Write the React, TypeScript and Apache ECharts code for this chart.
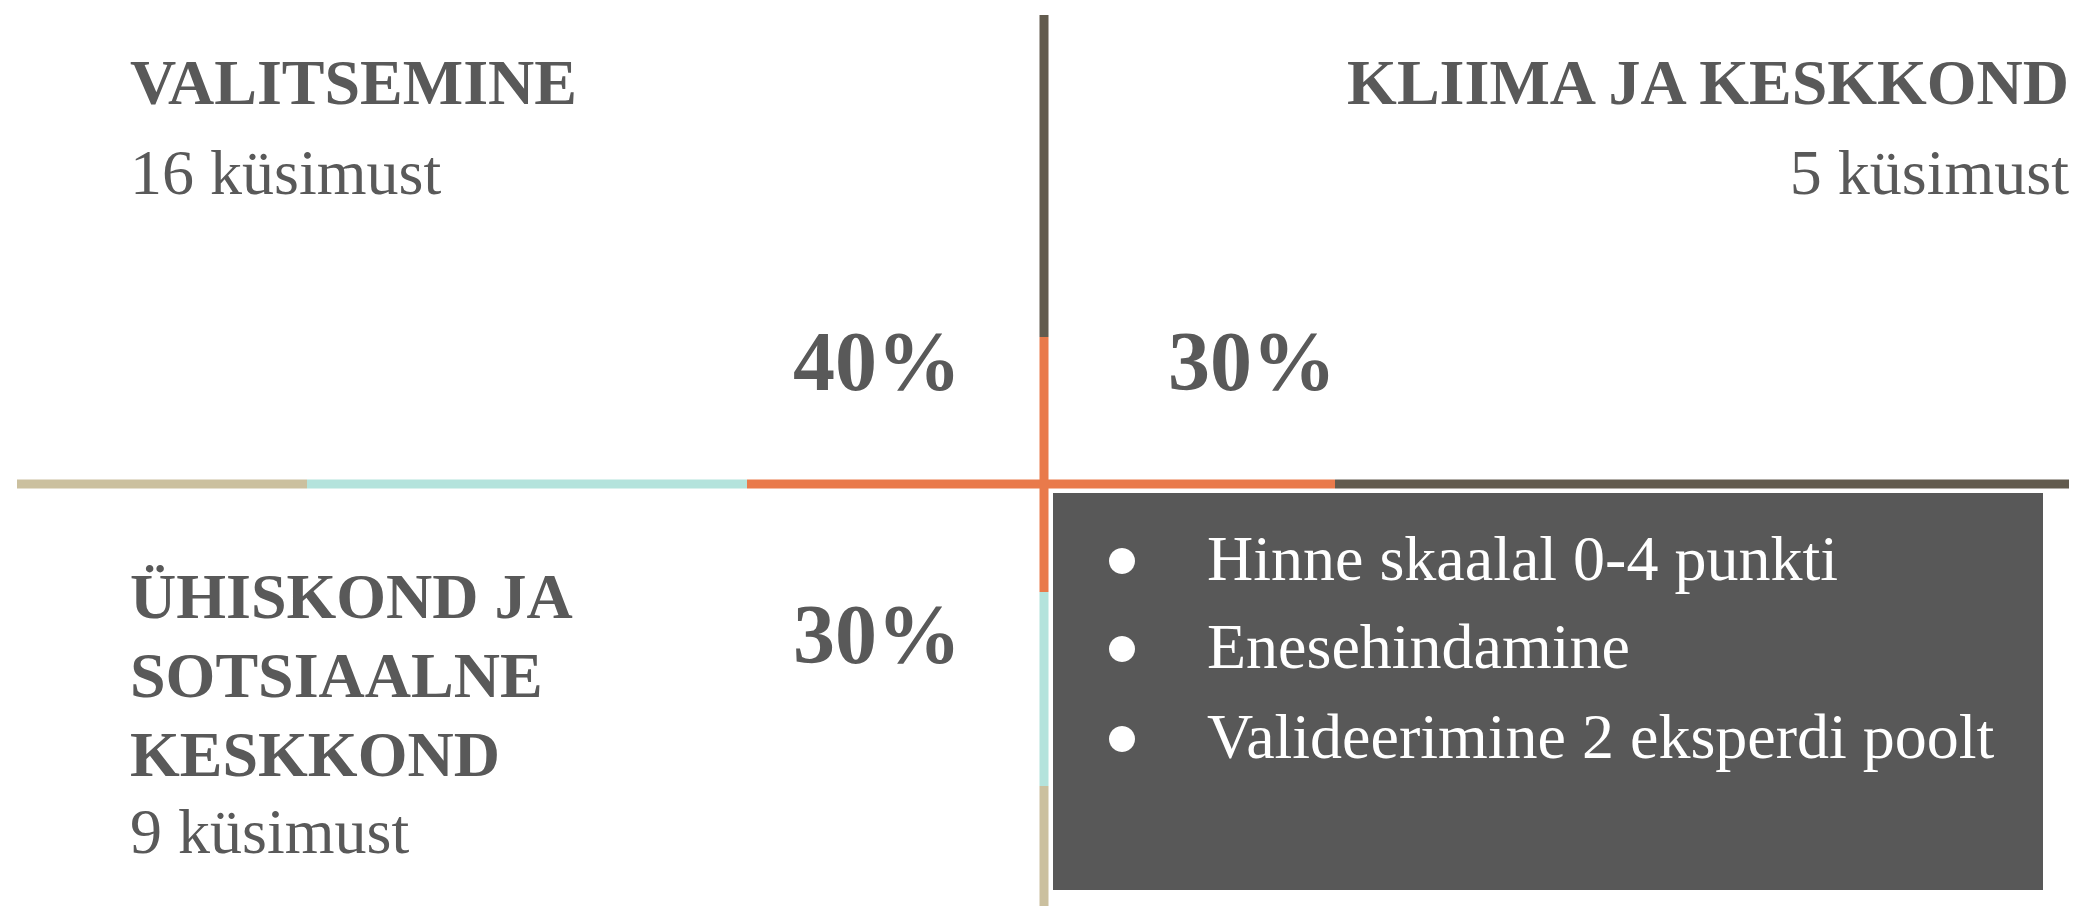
import React, { useEffect, useRef } from "react";
import * as echarts from "echarts";

// ---- data ----
const categories = ["VALITSEMINE", "KLIIMA JA KESKKOND", "ÜHISKOND JA\nSOTSIAALNE\nKESKKOND"];
const questionCounts = [16, 5, 9];
const weights = [40, 30, 30];
const questionWord = "küsimust";
const bulletPoints = ["Hinne skaalal 0-4 punkti", "Enesehindamine", "Valideerimine 2 eksperdi poolt"];

// ---- palette ----
const TAN = "#CBC09F";
const CYAN = "#B4E3DC";
const ORANGE = "#E97A4B";
const BROWN = "#625B4E";
const TEXT = "#595959";
const BOX = "#585858";
const FONT = '"Liberation Serif", "Times New Roman", serif';

// ---- layout (pixels) ----
const W = 2082;
const H = 906;
const CX = 1044; // vertical line x
const CY = 484; // horizontal line y
const LW = 9;
const hSegments = [
  { from: 17, to: 307, color: TAN },
  { from: 307, to: 747, color: CYAN },
  { from: 747, to: 1335, color: ORANGE },
  { from: 1335, to: 2069, color: BROWN },
];
const vSegments = [
  { from: 15, to: 337, color: BROWN },
  { from: 337, to: 592, color: ORANGE },
  { from: 592, to: 786, color: CYAN },
  { from: 786, to: 906, color: TAN },
];

function txt(text: string, x: number, y: number, size: number, opts: any = {}) {
  return {
    type: "text",
    x,
    y,
    silent: true,
    style: {
      text,
      fill: opts.fill || TEXT,
      font: `${opts.bold ? "bold " : ""}${size}px ${FONT}`,
      textAlign: opts.align || "left",
      textVerticalAlign: "middle",
    },
    z: 10,
  };
}

export default function App() {
  const ref = useRef<HTMLDivElement>(null);
  useEffect(() => {
    if (!ref.current) return;
    const chart = echarts.init(ref.current, undefined, { renderer: "svg", width: W, height: H });
    const g: any[] = [];
    // cross lines
    hSegments.forEach((s) =>
      g.push({ type: "line", shape: { x1: s.from, y1: CY, x2: s.to, y2: CY }, style: { stroke: s.color, lineWidth: LW }, z: 2 })
    );
    vSegments.forEach((s) =>
      g.push({ type: "line", shape: { x1: CX, y1: s.from, x2: CX, y2: s.to }, style: { stroke: s.color, lineWidth: LW }, z: 3 })
    );
    // info box
    g.push({ type: "rect", shape: { x: 1053, y: 493, width: 990, height: 397 }, style: { fill: BOX }, z: 1 });

    const FS = 64;
    const PS = 84;
    const off = 0.3375 * FS;
    const poff = 0.3375 * PS;
    // top-left
    g.push(txt(categories[0], 130, 104 - off, FS, { bold: true }));
    g.push(txt(`${questionCounts[0]} ${questionWord}`, 130, 194 - off, FS));
    g.push(txt(`${weights[0]}%`, 961, 390 - poff, PS, { bold: true, align: "right" }));
    // top-right
    g.push(txt(categories[1], 2069, 104 - off, FS, { bold: true, align: "right" }));
    g.push(txt(`${questionCounts[1]} ${questionWord}`, 2069, 194 - off, FS, { align: "right" }));
    g.push(txt(`${weights[1]}%`, 1168, 390 - poff, PS, { bold: true }));
    // bottom-left
    const lines = categories[2].split("\n");
    const baselines = [618, 697, 776];
    lines.forEach((l, i) => g.push(txt(l, 130, baselines[i] - off, FS, { bold: true })));
    g.push(txt(`${questionCounts[2]} ${questionWord}`, 130, 853 - off, FS));
    g.push(txt(`${weights[2]}%`, 961, 663 - poff, PS, { bold: true, align: "right" }));
    // bullets
    const bBase = [580, 668, 758];
    bulletPoints.forEach((b, i) => {
      g.push({ type: "circle", shape: { cx: 1122, cy: bBase[i] - 19, r: 13 }, style: { fill: "#FFFFFF" }, z: 5 });
      g.push(txt(b, 1207, bBase[i] - off, FS, { fill: "#FFFFFF" }));
    });

    chart.setOption({ animation: false, backgroundColor: "#FFFFFF", graphic: g });
    return () => chart.dispose();
  }, []);
  return <div ref={ref} style={{ position: "absolute", left: 0, top: 0, width: W, height: H }} />;
}
